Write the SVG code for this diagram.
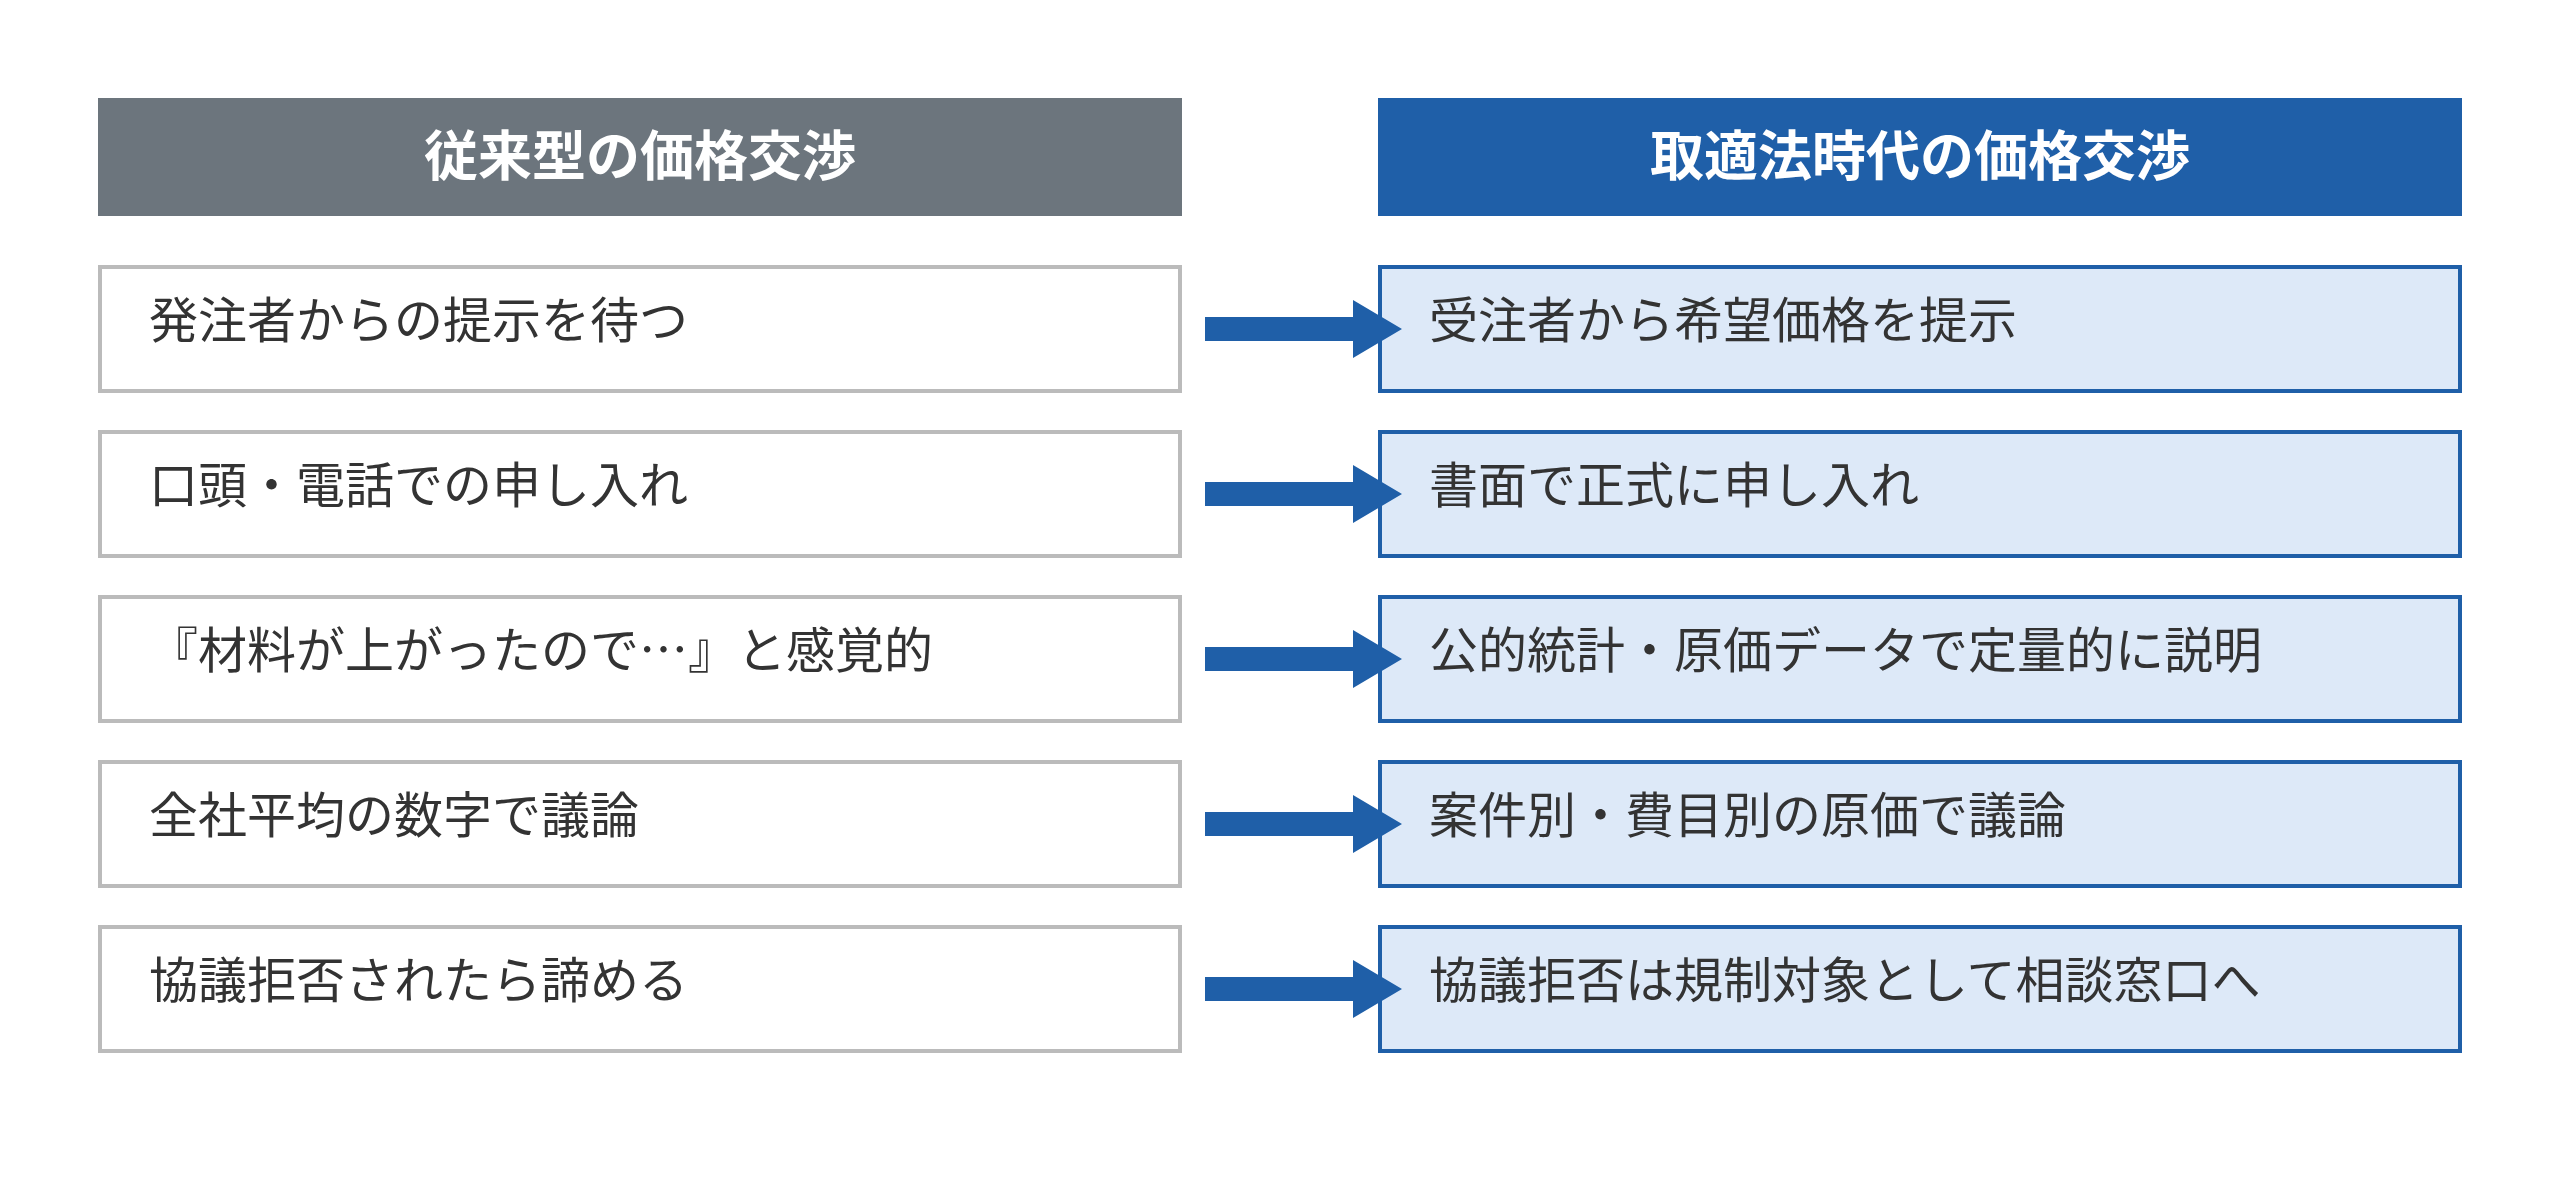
<svg xmlns="http://www.w3.org/2000/svg" width="2560" height="1191" viewBox="0 0 2560 1191">
<style>
text{font-family:"Noto Sans CJK JP","Noto Sans",sans-serif}
.h{font-size:54px;font-weight:bold;fill:#fff;text-anchor:middle}
.t{font-size:49px;fill:#333}
.l{fill:#fff;stroke:#bbb;stroke-width:4}
.r{fill:#dde9f8;stroke:#1f5fa8;stroke-width:4}
.a{fill:#1f5fa8}
</style>
<rect width="2560" height="1191" fill="#fff"/>
<g id="head-left"><rect x="98" y="98" width="1084" height="118" fill="#6c757d"/><text class="h" x="640" y="176">従来型の価格交渉</text></g>
<g id="head-right"><rect x="1378" y="98" width="1084" height="118" fill="#1f5fa8"/><text class="h" x="1920" y="176">取適法時代の価格交渉</text></g>
<g id="l1"><rect class="l" x="100" y="267" width="1080" height="124"/><text class="t" x="149" y="338">発注者からの提示を待つ</text></g>
<g id="l2"><rect class="l" x="100" y="432" width="1080" height="124"/><text class="t" x="149" y="503">口頭・電話での申し入れ</text></g>
<g id="l3"><rect class="l" x="100" y="597" width="1080" height="124"/><text class="t" x="149" y="668">『材料が上がったので…』と感覚的</text></g>
<g id="l4"><rect class="l" x="100" y="762" width="1080" height="124"/><text class="t" x="149" y="833">全社平均の数字で議論</text></g>
<g id="l5"><rect class="l" x="100" y="927" width="1080" height="124"/><text class="t" x="149" y="998">協議拒否されたら諦める</text></g>
<g id="r1"><rect class="r" x="1380" y="267" width="1080" height="124"/><text class="t" x="1429" y="338">受注者から希望価格を提示</text></g>
<g id="r2"><rect class="r" x="1380" y="432" width="1080" height="124"/><text class="t" x="1429" y="503">書面で正式に申し入れ</text></g>
<g id="r3"><rect class="r" x="1380" y="597" width="1080" height="124"/><text class="t" x="1429" y="668">公的統計・原価データで定量的に説明</text></g>
<g id="r4"><rect class="r" x="1380" y="762" width="1080" height="124"/><text class="t" x="1429" y="833">案件別・費目別の原価で議論</text></g>
<g id="r5"><rect class="r" x="1380" y="927" width="1080" height="124"/><text class="t" x="1429" y="998">協議拒否は規制対象として相談窓口へ</text></g>
<g id="connectors">
<path class="a" d="M1205 317H1353V300L1402 329L1353 358V341H1205Z"/>
<path class="a" d="M1205 482H1353V465L1402 494L1353 523V506H1205Z"/>
<path class="a" d="M1205 647H1353V630L1402 659L1353 688V671H1205Z"/>
<path class="a" d="M1205 812H1353V795L1402 824L1353 853V836H1205Z"/>
<path class="a" d="M1205 977H1353V960L1402 989L1353 1018V1001H1205Z"/>
</g>
</svg>
